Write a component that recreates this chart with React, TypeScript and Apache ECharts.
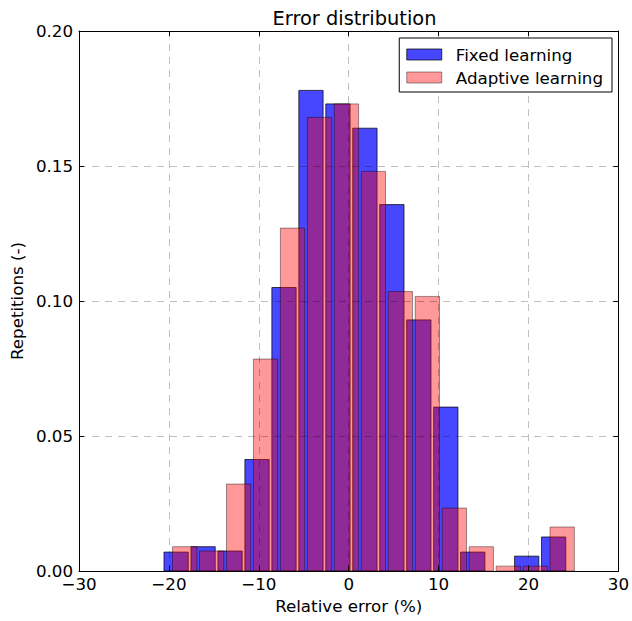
import React, { useEffect, useRef } from "react";
import * as echarts from "echarts";

const binWidth = 3.0;
const fixedStart = -20.7;
const fixedValues = [0.007, 0.009, 0.0074, 0.0413, 0.105, 0.178, 0.173, 0.164, 0.1357, 0.093, 0.0607, 0.007, 0, 0.0055, 0.0126];
const adaptiveStart = -19.75;
const adaptiveValues = [0.009, 0.0074, 0.0322, 0.0785, 0.127, 0.168, 0.173, 0.148, 0.1035, 0.1017, 0.0233, 0.009, 0.0018, 0.0018, 0.0163];
const seriesNames = ["Fixed learning", "Adaptive learning"];
const xTicks = [-30, -20, -10, 0, 10, 20, 30];
const yTicks = [0, 0.05, 0.1, 0.15, 0.2];

const FONT = "DejaVu Sans";
const FS = 16.7;
const rwidth = 0.9;

function toBins(start: number, values: number[]) {
  return values.map((v, i) => [start + i * binWidth, start + (i + 1) * binWidth, v]);
}

function makeRender(fill: string, stroke: string) {
  return (params: any, api: any) => {
    const x0 = api.value(0);
    const x1 = api.value(1);
    const h = api.value(2);
    if (h <= 0) return null;
    const pad = ((x1 - x0) * (1 - rwidth)) / 2;
    const p0 = api.coord([x0 + pad, h]);
    const p1 = api.coord([x1 - pad, 0]);
    return {
      type: "rect",
      shape: { x: p0[0], y: p0[1], width: p1[0] - p0[0], height: p1[1] - p0[1] },
      style: { fill, stroke, lineWidth: 1 },
    };
  };
}

export default function App() {
  const ref = useRef<HTMLDivElement>(null);
  useEffect(() => {
    if (!ref.current) return;
    const chart = echarts.init(ref.current, null, { renderer: "svg" });
    const blueFill = "rgba(0,0,255,0.72)";
    const blueEdge = "rgba(0,0,0,0.72)";
    const redFill = "rgba(255,0,0,0.4)";
    const redEdge = "rgba(0,0,0,0.4)";
    const minus = (v: number) => (v < 0 ? "\u2212" + Math.abs(v) : String(v));
    const axisCommon = {
      axisLine: { show: true, onZero: false, lineStyle: { color: "#000", width: 1 } },
      axisTick: { show: true, inside: true, length: 5, lineStyle: { color: "#000" } },
    };
    chart.setOption({
      animation: false,
      title: {
        text: "Error distribution",
        left: 349.5,
        textAlign: "center",
        top: 4,
        textStyle: { fontFamily: FONT, fontSize: 19.4, fontWeight: "normal", color: "#000" },
      },
      legend: {
        orient: "vertical",
        right: 20,
        top: 38,
        backgroundColor: "#fff",
        borderColor: "#000",
        borderWidth: 1,
        padding: [8, 9, 6, 7],
        itemWidth: 35,
        itemHeight: 11,
        itemGap: 6,
        textStyle: { fontFamily: FONT, fontSize: FS, color: "#000", padding: [0, 0, 0, 9] },
        data: [
          { name: seriesNames[0], icon: "rect", itemStyle: { color: blueFill, borderColor: blueEdge, borderWidth: 1 } },
          { name: seriesNames[1], icon: "rect", itemStyle: { color: redFill, borderColor: redEdge, borderWidth: 1 } },
        ],
        z: 10,
      },
      grid: { left: 79, right: 12, top: 31, bottom: 50 },
      xAxis: [
        {
          type: "value",
          min: -30,
          max: 30,
          interval: 10,
          z: 5,
          ...axisCommon,
          axisLabel: {
            fontFamily: FONT,
            fontSize: FS,
            lineHeight: 12,
            color: "#000",
            margin: 7,
            formatter: (v: number) => (xTicks.includes(v) ? minus(v) : ""),
          },
          splitLine: { show: true, lineStyle: { color: "rgba(0,0,0,0.25)", type: [7, 6], width: 1 } },
          name: "Relative error (%)",
          nameLocation: "middle",
          nameGap: 26,
          nameTextStyle: { fontFamily: FONT, fontSize: FS, color: "#000", verticalAlign: "top" },
        },
        {
          type: "value",
          position: "top",
          min: -30,
          max: 30,
          interval: 10,
          z: 5,
          ...axisCommon,
          axisLabel: { show: false },
          splitLine: { show: false },
        },
      ],
      yAxis: [
        {
          type: "value",
          min: 0,
          max: 0.2,
          interval: 0.05,
          z: 5,
          ...axisCommon,
          axisLabel: {
            fontFamily: FONT,
            fontSize: FS,
            lineHeight: 10,
            color: "#000",
            margin: 6,
            verticalAlign: "middle",
            formatter: (v: number) => (yTicks.some((t) => Math.abs(t - v) < 1e-9) ? v.toFixed(2) : ""),
          },
          splitLine: { show: true, lineStyle: { color: "rgba(0,0,0,0.25)", type: [7, 6], width: 1 } },
          name: "Repetitions (-)",
          nameLocation: "middle",
          nameGap: 50,
          nameTextStyle: { fontFamily: FONT, fontSize: FS, color: "#000" },
        },
        {
          type: "value",
          position: "right",
          min: 0,
          max: 0.2,
          interval: 0.05,
          z: 5,
          ...axisCommon,
          axisLabel: { show: false },
          splitLine: { show: false },
        },
      ],
      series: [
        {
          name: seriesNames[0],
          type: "custom",
          renderItem: makeRender(blueFill, blueEdge),
          itemStyle: { color: blueFill, borderColor: blueEdge },
          encode: { x: [0, 1], y: 2 },
          data: toBins(fixedStart, fixedValues),
          clip: true,
          z: 2,
        },
        {
          name: seriesNames[1],
          type: "custom",
          renderItem: makeRender(redFill, redEdge),
          itemStyle: { color: redFill, borderColor: redEdge },
          encode: { x: [0, 1], y: 2 },
          data: toBins(adaptiveStart, adaptiveValues),
          clip: true,
          z: 3,
        },
      ],
    });
    return () => chart.dispose();
  }, []);
  return <div ref={ref} style={{ width: 632, height: 621, position: "absolute", left: 0, top: 0 }} />;
}
